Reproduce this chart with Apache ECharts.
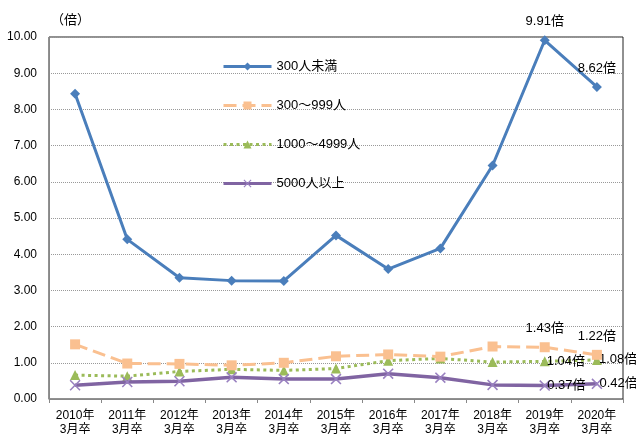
<!DOCTYPE html>
<html>
<head>
<meta charset="utf-8">
<script src="https://cdn.jsdelivr.net/npm/echarts@6/dist/echarts.min.js"></script>
<style>
  html, body { margin: 0; padding: 0; background: #fff; }
  #main { width: 636px; height: 434px; }
</style>
</head>
<body>
<div id="main"></div>
<script>
const years = ["2010年\n3月卒", "2011年\n3月卒", "2012年\n3月卒", "2013年\n3月卒", "2014年\n3月卒", "2015年\n3月卒",
  "2016年\n3月卒", "2017年\n3月卒", "2018年\n3月卒", "2019年\n3月卒", "2020年\n3月卒"];
const under300 = [8.43, 4.41, 3.35, 3.27, 3.26, 4.52, 3.59, 4.16, 6.45, 9.91, 8.62];
const from300to999 = [1.51, 0.98, 0.97, 0.93, 1.00, 1.18, 1.23, 1.17, 1.45, 1.43, 1.22];
const from1000to4999 = [0.66, 0.63, 0.76, 0.82, 0.79, 0.84, 1.06, 1.12, 1.02, 1.04, 1.08];
const over5000 = [0.38, 0.47, 0.49, 0.60, 0.55, 0.55, 0.70, 0.59, 0.39, 0.37, 0.42];
const seriesNames = ["300人未満", "300～999人", "1000～4999人", "5000人以上"];

const FONT = '"Liberation Sans", "Noto Sans CJK JP", sans-serif';
const xMark = "path://M0,1 L1,0 L5,4 L9,0 L10,1 L6,5 L10,9 L9,10 L5,6 L1,10 L0,9 L4,5 Z";

// label only the last two points, position per series
const lastTwo = (values, pos, distance) =>
  values.map((v, i) => i >= values.length - 2
    ? { value: v, label: { show: true, position: pos, distance: distance } }
    : v);

const labelStyle = {
  formatter: (p) => p.value.toFixed(2) + "倍",
  color: "#000",
  fontSize: 13,
  fontFamily: FONT,
};

const option = {
  animation: false,
  textStyle: { fontFamily: FONT },
  title: {
    text: "（倍）",
    left: 46,
    top: 9,
    textStyle: { fontSize: 13, fontWeight: "normal", color: "#000", fontFamily: FONT },
  },
  legend: {
    orient: "vertical",
    left: 217,
    top: 55,
    itemGap: 26,
    itemWidth: 48,
    itemHeight: 10,
    data: seriesNames,
    lineStyle: { width: 3 },
    textStyle: { fontSize: 13, color: "#000", fontFamily: FONT },
  },
  grid: {
    left: 49,
    right: 13,
    top: 37,
    bottom: 35,
    outerBoundsMode: "none",
    containLabel: false,
    show: true,
    borderColor: "#222",
    borderWidth: 1,
  },
  xAxis: {
    type: "category",
    data: years,
    axisLine: { lineStyle: { color: "#888", width: 1 } },
    axisTick: { show: true, length: 4, lineStyle: { color: "#888" } },
    axisLabel: { color: "#000", fontSize: 12, lineHeight: 14, margin: 10, fontFamily: FONT },
  },
  yAxis: {
    type: "value",
    min: 0,
    max: 10,
    interval: 1,
    axisLine: { show: true, lineStyle: { color: "#888", width: 1 } },
    axisTick: { show: false },
    axisLabel: {
      color: "#000",
      fontSize: 12,
      margin: 12,
      fontFamily: FONT,
      formatter: (v) => v.toFixed(2),
    },
    splitLine: { lineStyle: { color: "#999", type: "dotted", width: 1 } },
  },
  series: [
    {
      name: seriesNames[0],
      type: "line",
      data: lastTwo(under300, "top", 7),
      symbol: "diamond",
      symbolSize: 10,
      lineStyle: { color: "#4A7EBB", width: 3 },
      itemStyle: { color: "#4A7EBB" },
      label: labelStyle,
      z: 4,
    },
    {
      name: seriesNames[1],
      type: "line",
      data: lastTwo(from300to999, "top", 7),
      symbol: "rect",
      symbolSize: 10,
      lineStyle: { color: "#FAC090", width: 3, type: [13, 6] },
      itemStyle: { color: "#FAC090" },
      label: labelStyle,
      z: 3,
    },
    {
      name: seriesNames[2],
      type: "line",
      data: lastTwo(from1000to4999, "right", -3),
      symbol: "triangle",
      symbolSize: 10,
      lineStyle: { color: "#9BBB59", width: 3, type: [3, 3.5] },
      itemStyle: { color: "#9BBB59" },
      label: labelStyle,
      z: 2,
    },
    {
      name: seriesNames[3],
      type: "line",
      data: lastTwo(over5000, "right", -3),
      symbol: xMark,
      symbolSize: 11,
      lineStyle: { color: "#8064A2", width: 3.5 },
      itemStyle: { color: "#9980C0" },
      label: labelStyle,
      z: 5,
    },
  ],
};

const myChart = echarts.init(document.getElementById("main"));
myChart.setOption(option);
</script>
</body>
</html>
